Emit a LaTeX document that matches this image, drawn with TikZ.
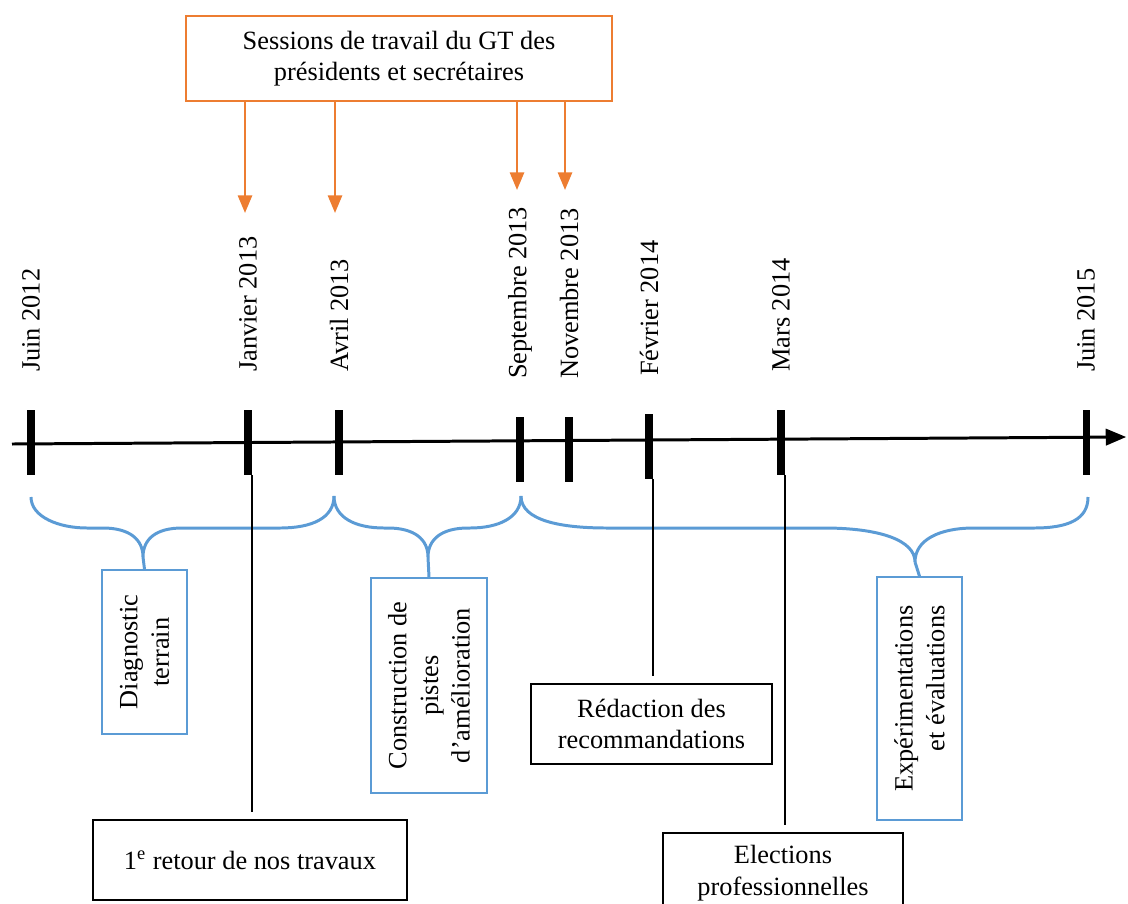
\documentclass[tikz,border=0pt]{standalone}
\usepackage{fontspec}
\setmainfont{Liberation Serif}
\usetikzlibrary{arrows, arrows.meta}
\definecolor{orangeGT}{HTML}{ED7D31}
\definecolor{bleuGT}{HTML}{5B9BD5}

\begin{document}
\begin{tikzpicture}[x=0.02cm, y=-0.02cm,
  every node/.style={font=\fontsize{15}{18}\selectfont},
  sessionbox/.style={draw=orangeGT, line width=0.9pt, align=center},
  sessionarrow/.style={orangeGT, line width=1.4pt, -{Triangle[width=8pt, length=10pt]}},
  datelabel/.style={rotate=90, anchor=west, inner sep=1pt},
  phasebox/.style={draw=bleuGT, line width=0.9pt, rotate=90, align=center},
  accolade/.style={bleuGT, line width=1.7pt},
  eventbox/.style={draw, line width=1.1pt, align=center},
  eventline/.style={line width=0.8pt, shorten >=4pt}]
  \useasboundingbox (0,0) rectangle (1128,903);

  % axe du temps
  \draw [line width=1.7pt, -triangle 45] (12,444) -- (1126,437);
  \foreach \x/\dy/\nom/\texte in {31/0/juin12/Juin 2012, 248/0/jan13/Janvier 2013,
      339/0/avr13/Avril 2013, 520/7/sep13/Septembre 2013, 569/7/nov13/Novembre 2013,
      649/4/fev14/Février 2014, 781/0/mar14/Mars 2014, 1086/0/juin15/Juin 2015} {
    \draw [line width=4pt] (\x,410+\dy) -- (\x,475+\dy);
    \coordinate (\nom) at (\x+4,475+\dy);
    \node [datelabel] (l\nom) at (\x,374+\dy) {\texte};
  }

  % sessions du GT
  \node [sessionbox, minimum width=8.52cm, minimum height=1.7cm] (sessions) at (399,58.5)
    {Sessions de travail du GT des\\présidents et secrétaires};
  \coordinate (fjan) at (245,213);
  \coordinate (favr) at (335,213);
  \coordinate (fsep) at (517,190);
  \coordinate (fnov) at (565,190);
  \foreach \f in {fjan, favr, fsep, fnov}
    \draw [sessionarrow] (sessions.south -| \f) -- (\f);

  % phases
  \node [phasebox, minimum width=3.28cm, minimum height=1.7cm] (diag) at (144.5,652)
    {Diagnostic\\terrain};
  \node [phasebox, minimum width=4.3cm, minimum height=2.32cm] (constr) at (429,685.5)
    {Construction de\\pistes\\d’amélioration};
  \node [phasebox, align=right, minimum width=4.86cm, minimum height=1.7cm] (exper) at (919.5,698.5)
    {Expérimentations\\et évaluations};

  \coordinate (pdiag) at (143,557);
  \coordinate (pconstr) at (428,557);
  \coordinate (pexper) at (915,562);
  \draw [accolade] (31,497) .. controls +(0,20) and +(-28,0) .. (87,528) -- (103,528)
    .. controls +(26,0) and +(0,-18) .. (pdiag) .. controls +(0,-18) and +(-26,0) .. (182,528)
    -- (280,528) .. controls +(32,0) and +(0,22) .. (334,496);
  \draw [accolade] (334,496) .. controls +(0,22) and +(-28,0) .. (384,528) -- (388,528)
    .. controls +(26,0) and +(0,-18) .. (pconstr) .. controls +(0,-18) and +(-26,0) .. (468,528)
    -- (470,528) .. controls +(28,0) and +(0,22) .. (521,496);
  \draw [accolade] (521,496) .. controls +(0,25) and +(-45,0) .. (607,528) -- (824,528)
    .. controls +(55,0) and +(0,-22) .. (pexper) .. controls +(0,-22) and +(-35,0) .. (974,528)
    -- (1034,528) .. controls +(35,0) and +(0,22) .. (1088,497);
  \draw [accolade] (pdiag) -- (diag.east);
  \draw [accolade] (pconstr) -- (constr.east);
  \draw [accolade] (pexper) -- (exper.east);

  % evenements
  \node [eventbox, minimum width=6.28cm, minimum height=1.6cm] (retour) at (250,860)
    {1\textsuperscript{e} retour de nos travaux};
  \node [eventbox, minimum width=4.82cm, minimum height=1.6cm] (redac) at (651.5,724)
    {Rédaction des\\recommandations};
  \node [eventbox, minimum width=4.8cm, minimum height=1.6cm] (elect) at (783,873)
    {Elections\\professionnelles};
  \draw [eventline] (jan13) -- (jan13 |- retour.north);
  \draw [eventline] (fev14) -- (fev14 |- redac.north);
  \draw [eventline] (mar14) -- (mar14 |- elect.north);
\end{tikzpicture}
\end{document}
